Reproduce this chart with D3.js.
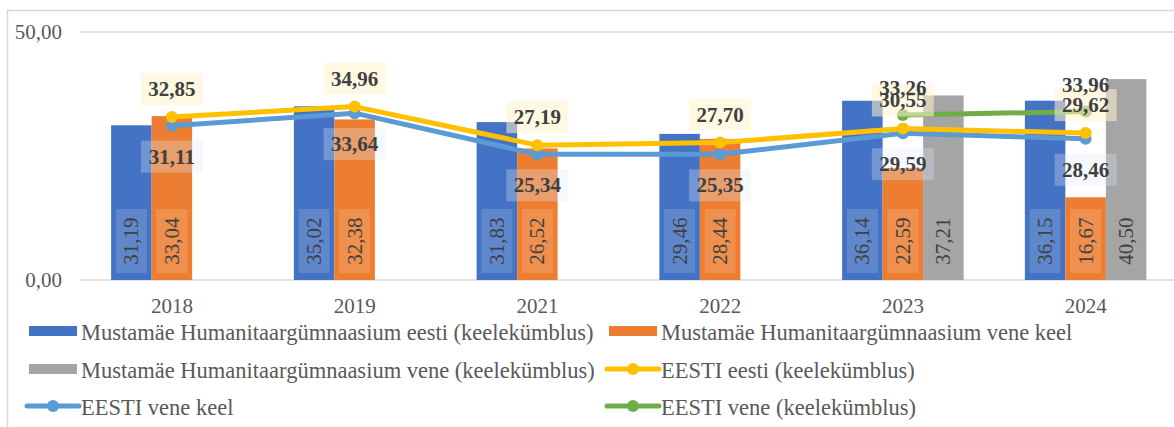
<!DOCTYPE html>
<html>
<head>
<meta charset="utf-8">
<script src="https://cdn.jsdelivr.net/npm/d3@7"></script>
<style>
  body { margin: 0; background: #fff; }
  svg text { font-family: "Liberation Serif", "DejaVu Serif", "Times New Roman", serif; }
</style>
</head>
<body>
<div id="chart"></div>
<script>
// categories and values
var years = ["2018", "2019", "2021", "2022", "2023", "2024"];
var barNames = ["Mustamäe Humanitaargümnaasium eesti (keelekümblus)",
                "Mustamäe Humanitaargümnaasium vene keel",
                "Mustamäe Humanitaargümnaasium vene (keelekümblus)"];
var mhgEesti = [31.19, 35.02, 31.83, 29.46, 36.14, 36.15];
var mhgVeneKeel = [33.04, 32.38, 26.52, 28.44, 22.59, 16.67];
var mhgVeneKk = [null, null, null, null, 37.21, 40.50];
var lineNames = ["EESTI eesti (keelekümblus)", "EESTI vene keel", "EESTI vene (keelekümblus)"];
var eestiEesti = [32.85, 34.96, 27.19, 27.70, 30.55, 29.62];
var eestiVeneKeel = [31.11, 33.64, 25.34, 25.35, 29.59, 28.46];
var eestiVeneKk = [null, null, null, null, 33.26, 33.96];
var yTicks = [0, 50];

var width = 1174, height = 427;
var svg = d3.select("#chart").append("svg")
    .attr("width", width)
    .attr("height", height)
    .attr("font-family", "'Liberation Serif', 'DejaVu Serif', serif");

// chart frame
svg.append("rect")
    .attr("x", 7.5).attr("y", 10.5)
    .attr("width", 1180).attr("height", 430)
    .attr("fill", "none")
    .attr("stroke", "#D9D9D9")
    .attr("stroke-width", 1.5);

var x = d3.scaleBand().domain(years).range([80.5, 1177]).padding(0);
var y = d3.scaleLinear().domain([0, 50]).range([280, 32]);
var x1 = d3.scaleBand().domain([0, 1, 2]).range([-60.75, 60.75]).padding(0);

function fmt(v) { return d3.format(".2f")(v).replace(".", ","); }

// gridlines + y labels
svg.selectAll(".grid").data(yTicks).enter().append("line")
    .attr("x1", 80).attr("x2", 1174)
    .attr("y1", function(d) { return y(d); })
    .attr("y2", function(d) { return y(d); })
    .attr("stroke", "#D9D9D9").attr("stroke-width", 1.5);
svg.selectAll(".ylab").data(yTicks).enter().append("text")
    .attr("x", 62)
    .attr("y", function(d) { return y(d); })
    .attr("text-anchor", "end")
    .attr("dominant-baseline", "central")
    .attr("font-size", 21)
    .attr("fill", "#595959")
    .text(function(d) { return fmt(d); });

// x labels
svg.selectAll(".xlab").data(years).enter().append("text")
    .attr("x", function(d) { return x(d) + x.bandwidth() / 2; })
    .attr("y", 306)
    .attr("text-anchor", "middle")
    .attr("dominant-baseline", "central")
    .attr("font-size", 21)
    .attr("fill", "#595959")
    .text(function(d) { return d; });

// bars
var barSeries = [mhgEesti, mhgVeneKeel, mhgVeneKk];
var barColors = ["#4472C4", "#ED7D31", "#A5A5A5"];
var barData = [];
barSeries.forEach(function(s, i) {
    s.forEach(function(v, j) {
        if (v != null) barData.push({ s: i, year: years[j], value: v });
    });
});
function bx(d) { return x(d.year) + x.bandwidth() / 2 + x1(d.s); }

svg.selectAll(".bar").data(barData).enter().append("rect")
    .attr("x", bx)
    .attr("y", function(d) { return y(d.value); })
    .attr("width", x1.bandwidth())
    .attr("height", function(d) { return y(0) - y(d.value); })
    .attr("fill", function(d) { return barColors[d.s]; });

// bar labels (rotated, in a faint box near the base)
svg.selectAll(".barbox").data(barData).enter().append("rect")
    .attr("x", function(d) { return bx(d) + x1.bandwidth() / 2 - 15.5; })
    .attr("y", 209)
    .attr("width", 31).attr("height", 64)
    .attr("fill", "#fff")
    .attr("fill-opacity", function(d) { return d.s === 2 ? 0 : 0.15; });
svg.selectAll(".barlab").data(barData).enter().append("text")
    .attr("transform", function(d) {
        return "translate(" + (bx(d) + x1.bandwidth() / 2) + ",241) rotate(-90)";
    })
    .attr("text-anchor", "middle")
    .attr("dominant-baseline", "central")
    .attr("font-size", 21)
    .attr("fill", "#404040")
    .text(function(d) { return fmt(d.value); });

// lines
var lineSeries = [eestiEesti, eestiVeneKeel, eestiVeneKk];
var lineColors = ["#FFC000", "#5B9BD5", "#70AD47"];
var labelOffsets = [-28, 31, -27];
var boxFills = ["rgba(255,242,204,0.55)", "rgba(222,235,247,0.3)", "none"];
var cx = function(i) { return x(years[i]) + x.bandwidth() / 2; };
var line = d3.line()
    .defined(function(d) { return d != null; })
    .x(function(d, i) { return cx(i); })
    .y(function(d) { return y(d); });

// draw order: blue first, then yellow, then green on top
[1, 0, 2].forEach(function(k) {
    var vals = lineSeries[k];
    svg.append("path")
        .datum(vals)
        .attr("d", line)
        .attr("fill", "none")
        .attr("stroke", lineColors[k])
        .attr("stroke-width", 5)
        .attr("stroke-linejoin", "round");
    var pts = vals.map(function(v, i) { return { i: i, v: v }; })
        .filter(function(d) { return d.v != null; });
    svg.selectAll(".pt" + k).data(pts).enter().append("circle")
        .attr("cx", function(d) { return cx(d.i); })
        .attr("cy", function(d) { return y(d.v); })
        .attr("r", 6)
        .attr("fill", lineColors[k]);
});

[1, 0, 2].forEach(function(k) {
    var pts = lineSeries[k].map(function(v, i) { return { i: i, v: v }; })
        .filter(function(d) { return d.v != null; });
    svg.selectAll(".lbox" + k).data(pts).enter().append("rect")
        .attr("x", function(d) { return cx(d.i) - 31; })
        .attr("y", function(d) { return y(d.v) + labelOffsets[k] - 16; })
        .attr("width", 62).attr("height", 32)
        .attr("fill", boxFills[k]);
    svg.selectAll(".llab" + k).data(pts).enter().append("text")
        .attr("x", function(d) { return cx(d.i); })
        .attr("y", function(d) { return y(d.v) + labelOffsets[k]; })
        .attr("text-anchor", "middle")
        .attr("dominant-baseline", "central")
        .attr("font-size", 21)
        .attr("font-weight", "bold")
        .attr("fill", "#404040")
        .text(function(d) { return fmt(d.v); });
});

// legend
var legendItems = [
    { name: barNames[0], type: "bar", color: barColors[0], col: 0, row: 0 },
    { name: barNames[1], type: "bar", color: barColors[1], col: 1, row: 0 },
    { name: barNames[2], type: "bar", color: barColors[2], col: 0, row: 1 },
    { name: lineNames[0], type: "line", color: lineColors[0], col: 1, row: 1 },
    { name: lineNames[1], type: "line", color: lineColors[1], col: 0, row: 2 },
    { name: lineNames[2], type: "line", color: lineColors[2], col: 1, row: 2 }
];
var colX = [29, 609];
var rowY = [331, 369, 406];
var lg = svg.selectAll(".leg").data(legendItems).enter().append("g")
    .attr("transform", function(d) { return "translate(" + colX[d.col] + "," + rowY[d.row] + ")"; });
lg.filter(function(d) { return d.type === "bar"; }).append("rect")
    .attr("x", 0).attr("y", -5).attr("width", 48).attr("height", 10)
    .attr("fill", function(d) { return d.color; });
lg.filter(function(d) { return d.type === "line"; }).append("line")
    .attr("x1", -2).attr("x2", 50).attr("y1", 0).attr("y2", 0)
    .attr("stroke", function(d) { return d.color; })
    .attr("stroke-width", 5).attr("stroke-linecap", "round");
lg.filter(function(d) { return d.type === "line"; }).append("circle")
    .attr("cx", 24).attr("cy", 0).attr("r", 6)
    .attr("fill", function(d) { return d.color; });
lg.append("text")
    .attr("x", 52).attr("y", 1)
    .attr("dominant-baseline", "central")
    .attr("font-size", 22.5)
    .attr("fill", "#595959")
    .text(function(d) { return d.name; });
</script>
</body>
</html>
